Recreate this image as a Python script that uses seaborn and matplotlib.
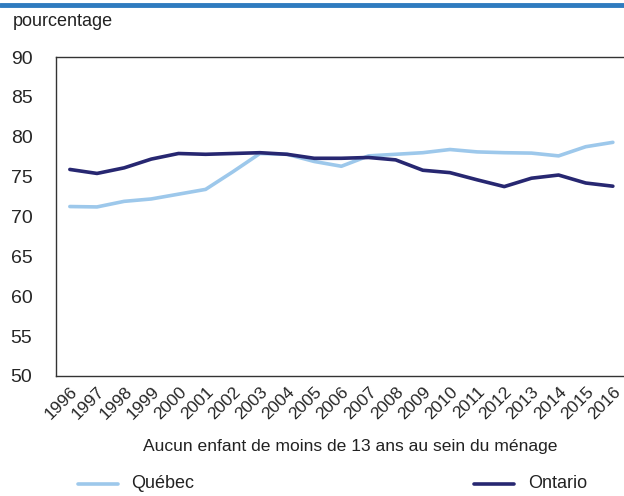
import numpy as np
import pandas as pd
import matplotlib
matplotlib.use("Agg")
import matplotlib.pyplot as plt
import seaborn as sns

# data
years = list(range(1996, 2017))
quebec = [71.25, 71.2, 71.9, 72.2, 72.8, 73.4, 75.6, 77.9, 77.8, 76.9, 76.3,
          77.6, 77.8, 78.0, 78.4, 78.1, 78.0, 77.95, 77.6, 78.75, 79.3]
ontario = [75.9, 75.4, 76.1, 77.2, 77.9, 77.8, 77.9, 78.0, 77.8, 77.3, 77.3,
           77.4, 77.1, 75.8, 75.5, 74.6, 73.75, 74.8, 75.2, 74.2, 73.8]
series_names = ["Québec", "Ontario"]
yticks = [50, 55, 60, 65, 70, 75, 80, 85, 90]

df = pd.DataFrame({"year": years * 2,
                   "value": quebec + ontario,
                   "province": [series_names[0]] * len(years) + [series_names[1]] * len(years)})

sns.set_style("white")
plt.rcParams['font.family'] = ['Liberation Sans', 'DejaVu Sans']
plt.rcParams['text.color'] = '#222222'

palette = {"Québec": "#9DC8EB", "Ontario": "#272771"}

fig = plt.figure(figsize=(6.24, 4.96), dpi=100)
ax = fig.add_axes([56/624, 1 - 376/496, 1 - 56/624, (376 - 57)/496])

sns.lineplot(data=df, x="year", y="value", hue="province", palette=palette,
             linewidth=2.6, ax=ax, legend=False)

ax.set_xlim(1995.49, 2016.41)
ax.set_ylim(50, 90)
ax.set_yticks(yticks)
ax.set_xticks(years)
ax.set_xticklabels([str(y) for y in years], rotation=45, ha="right",
                   rotation_mode="anchor", fontsize=12.5)
ax.tick_params(axis="y", labelsize=14, direction="in", length=3, pad=17, color="#333333")
ax.tick_params(axis="x", direction="in", length=3, pad=6, color="#333333")
ax.set_xlabel("")
ax.set_ylabel("")
for s in ["left", "bottom", "top"]:
    ax.spines[s].set_color("#333333")
    ax.spines[s].set_linewidth(1.0)
ax.spines["right"].set_visible(False)

# top blue rule
fig.add_artist(plt.Line2D([0, 1], [1 - 5/496, 1 - 5/496], color="#2F7BBF", linewidth=3.5))
fig.text(13/624, 1 - 21/496, "pourcentage", fontsize=13, va="center", ha="left")

fig.text(350/624, 1 - 446/496, "Aucun enfant de moins de 13 ans au sein du ménage",
         fontsize=12.6, ha="center", va="center")

# legend row
ly = 1 - 484/496
for name, x0, tx in [("Québec", 78, 131), ("Ontario", 474, 528)]:
    fig.add_artist(plt.Line2D([x0/624, (x0 + 40)/624], [ly, ly], color=palette[name], linewidth=2.6))
    fig.text(tx/624, ly, name, fontsize=13, ha="left", va="center")

fig.savefig("out.png", dpi=100)
